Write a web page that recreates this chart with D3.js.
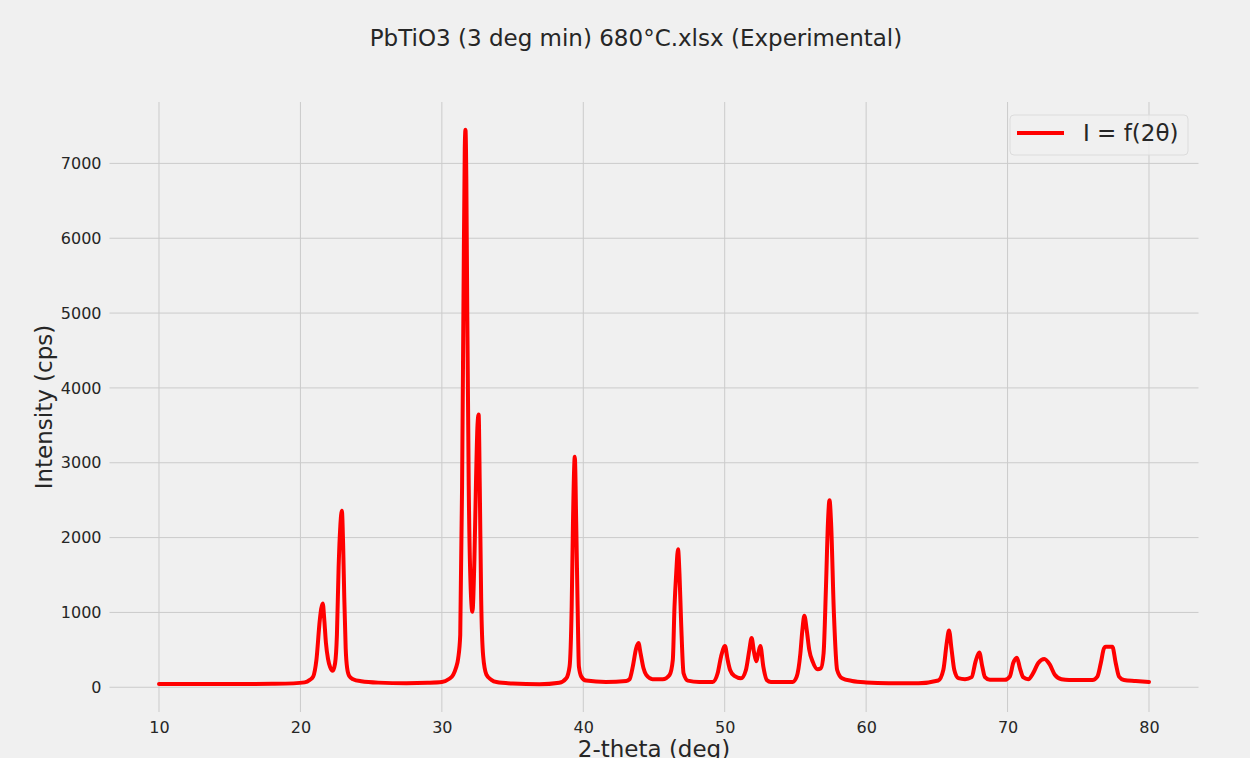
<!DOCTYPE html>
<html lang="en">
<head>
  <meta charset="UTF-8">
  <title>PbTiO3 XRD</title>
  <script src="https://d3js.org/d3.v7.min.js"></script>
  <style>
    body {
      margin: 0;
      padding: 0;
      background: #f0f0f0;
    }
    svg text {
      font-family: "DejaVu Sans", sans-serif;
      fill: #262626;
    }
  </style>
</head>
<body>
  <svg id="chart"></svg>

  <script>
    // Data
    const chartTitle = "PbTiO3 (3 deg min) 680°C.xlsx (Experimental)";
    const xLabel = "2-theta (deg)";
    const yLabel = "Intensity (cps)";
    const seriesName = "I = f(2θ)";

    const xTicks = [10, 20, 30, 40, 50, 60, 70, 80];
    const yTicks = [0, 1000, 2000, 3000, 4000, 5000, 6000, 7000];

    // 2-theta (deg)
    const theta = [
      10.0, 12.0, 14.0, 16.0, 18.0, 19.5, 20.3, 20.66, 20.9, 21.13, 21.37, 21.47, 21.58, 21.68, 21.8, 21.95,
      22.1, 22.28, 22.45, 22.58, 22.7, 22.82, 22.93, 23.02, 23.1, 23.2, 23.3, 23.45, 23.72, 24.3, 25.5, 27.5,
      29.0, 30.0, 30.5, 30.8, 31.0, 31.15, 31.3, 31.43, 31.53, 31.62, 31.67, 31.73, 31.79, 31.9, 32.02, 32.16,
      32.3, 32.42, 32.52, 32.6, 32.68, 32.78, 32.92, 33.15, 33.5, 33.86, 35.0, 36.9, 38.3, 38.8,
      39.03, 39.18, 39.27, 39.4, 39.5, 39.6, 39.69, 39.86, 40.2, 41.6, 43.04, 43.27, 43.5, 43.74, 43.9, 44.05,
      44.26, 44.45, 44.9, 45.62, 46.1, 46.33, 46.45, 46.57, 46.7, 46.8, 46.92, 47.09, 47.39, 48.2, 49.15, 49.5,
      49.74, 50.02, 50.21, 50.38, 50.68, 51.15, 51.5, 51.74, 51.9, 52.08, 52.24, 52.38, 52.52, 52.73, 52.97, 53.27,
      54.8, 55.09, 55.35, 55.49, 55.63, 55.8, 55.98, 56.22, 56.57, 56.8, 56.99, 57.16, 57.3, 57.41, 57.52, 57.72,
      57.95, 58.3, 59.01, 60.0, 61.6, 63.7, 65.1, 65.46, 65.7, 65.86, 66.04, 66.23, 66.52, 66.99, 67.46, 67.74,
      68.0, 68.21, 68.4, 68.75, 69.8, 70.16, 70.4, 70.66, 70.87, 71.1, 71.46, 71.81, 72.17, 72.6, 72.99, 73.34,
      73.81, 74.35, 76.0, 76.35, 76.59, 76.82, 76.94, 77.41, 77.65, 77.88, 78.23, 79.06, 80.0
    ];

    // Intensity (cps)
    const intensity = [
      45, 45, 45, 45, 47, 52, 65, 98, 142, 364, 898, 1050, 1120, 920, 600, 380,
      270, 220, 320, 700, 1600, 2150, 2360, 1900, 1200, 520, 260, 150, 107, 80, 62, 55,
      60, 70, 110, 165, 260, 380, 700, 2690, 5200, 7200, 7450, 6800, 5200, 2690, 1430, 1010,
      1700, 2800, 3500, 3646, 2700, 1180, 420, 170, 100, 70, 50, 40, 60, 120,
      276, 1078, 2190, 3080, 2190, 1078, 276, 142, 89, 72, 85, 107, 276, 521, 590, 454,
      254, 165, 107, 107, 165, 365, 1078, 1523, 1844, 1523, 855, 187, 89, 71, 71, 187,
      409, 551, 364, 231, 151, 120, 231, 498, 658, 460, 347, 460, 551, 276, 98, 71,
      71, 142, 453, 764, 955, 764, 498, 342, 240, 253, 453, 1342, 2200, 2500, 2200, 987,
      231, 120, 84, 65, 55, 55, 90, 234, 595, 757, 505, 234, 122, 108, 135, 347,
      464, 279, 135, 99, 99, 144, 324, 396, 257, 135, 108, 189, 324, 378, 302, 167,
      108, 98, 98, 143, 321, 522, 540, 540, 321, 143, 98, 85, 71
    ];

    const data = theta.map((t, i) => ({ x: t, y: intensity[i] }));

    const width = 1250;
    const height = 758;
    const plot = { left: 109.5, right: 1198.5, top: 102, bottom: 712 };

    const svg = d3.select("#chart")
      .attr("width", width)
      .attr("height", height)
      .style("display", "block")
      .style("background", "#f0f0f0");

    // matplotlib-like 5% margins
    const xMin = d3.min(theta), xMax = d3.max(theta);
    const yMin = d3.min(intensity), yMax = d3.max(intensity);
    const xPad = (xMax - xMin) * 0.05;
    const yPad = (yMax - yMin) * 0.05;

    const x = d3.scaleLinear()
      .domain([xMin - xPad, xMax + xPad])
      .range([plot.left, plot.right]);

    const y = d3.scaleLinear()
      .domain([yMin - yPad, yMax + yPad])
      .range([plot.bottom, plot.top]);

    // Grid lines
    const grid = svg.append("g");
    grid.selectAll(".vgrid")
      .data(xTicks)
      .enter()
      .append("line")
      .attr("x1", d => x(d))
      .attr("x2", d => x(d))
      .attr("y1", plot.top)
      .attr("y2", plot.bottom)
      .attr("stroke", "#cbcbcb")
      .attr("stroke-width", 1);

    grid.selectAll(".hgrid")
      .data(yTicks)
      .enter()
      .append("line")
      .attr("x1", plot.left)
      .attr("x2", plot.right)
      .attr("y1", d => y(d))
      .attr("y2", d => y(d))
      .attr("stroke", "#cbcbcb")
      .attr("stroke-width", 1);

    // Axes (labels only, no spines or tick marks)
    const xAxis = svg.append("g")
      .attr("transform", `translate(0,${plot.bottom})`)
      .call(d3.axisBottom(x).tickValues(xTicks).tickSize(0).tickPadding(10).tickFormat(d3.format("d")));
    xAxis.select(".domain").remove();
    xAxis.selectAll("text").style("font-size", "16px").attr("fill", "#262626");

    const yAxis = svg.append("g")
      .attr("transform", `translate(${plot.left},0)`)
      .call(d3.axisLeft(y).tickValues(yTicks).tickSize(0).tickPadding(8).tickFormat(d3.format("d")));
    yAxis.select(".domain").remove();
    yAxis.selectAll("text").style("font-size", "16px").attr("fill", "#262626");

    // The diffraction pattern
    const line = d3.line()
      .x(d => x(d.x))
      .y(d => y(d.y))
      .curve(d3.curveMonotoneX);

    svg.append("path")
      .datum(data)
      .attr("d", line)
      .attr("fill", "none")
      .attr("stroke", "#ff0000")
      .attr("stroke-width", 4)
      .attr("stroke-linejoin", "round")
      .attr("stroke-linecap", "round");

    // Title and axis labels
    svg.append("text")
      .attr("x", 636)
      .attr("y", 46)
      .attr("text-anchor", "middle")
      .style("font-size", "23px")
      .text(chartTitle);

    svg.append("text")
      .attr("x", (plot.left + plot.right) / 2)
      .attr("y", 757)
      .attr("text-anchor", "middle")
      .style("font-size", "23px")
      .text(xLabel);

    svg.append("text")
      .attr("transform", `translate(52,${(plot.top + plot.bottom) / 2}) rotate(-90)`)
      .attr("text-anchor", "middle")
      .style("font-size", "23px")
      .text(yLabel);

    // Legend
    const legend = svg.append("g");
    legend.append("rect")
      .attr("x", 1010)
      .attr("y", 115)
      .attr("width", 178)
      .attr("height", 40)
      .attr("rx", 4)
      .attr("fill", "#f0f0f0")
      .attr("fill-opacity", 0.8)
      .attr("stroke", "#dcdcdc")
      .attr("stroke-width", 1);

    legend.append("line")
      .attr("x1", 1017)
      .attr("x2", 1064)
      .attr("y1", 133)
      .attr("y2", 133)
      .attr("stroke", "#ff0000")
      .attr("stroke-width", 4);

    legend.append("text")
      .attr("x", 1083)
      .attr("y", 141)
      .style("font-size", "23px")
      .text(seriesName);
  </script>
</body>
</html>
